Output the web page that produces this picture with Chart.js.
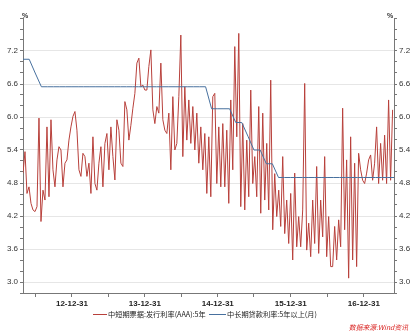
<!DOCTYPE html>
<html><head><meta charset="utf-8">
<script src="https://cdn.jsdelivr.net/npm/chart.js@4.4.1/dist/chart.umd.min.js"></script>
<style>html,body{margin:0;padding:0;background:#fff}#wrap{width:418px;height:335px;position:relative}</style>
</head><body><div id="wrap"><canvas id="c" width="418" height="335"></canvas></div>
<script>
const redLabel = '中短期票据:发行利率(AAA):5年';
const blueLabel = '中长期贷款利率:5年以上(月)';
const sourceText = '数据来源:Wind资讯';
const unitLabel = '%';
const xTickDates = ['2012-06-30','2012-12-31','2013-06-30','2013-12-31','2014-06-30','2014-12-31','2015-06-30','2015-12-31','2016-06-30','2016-12-31'];
const xTickLabels = ['','12-12-31','','13-12-31','','14-12-31','','15-12-31','','16-12-31'];
const yTickValues = [2.8,3.0,3.2,3.4,3.6,3.8,4.0,4.2,4.4,4.6,4.8,5.0,5.2,5.4,5.6,5.8,6.0,6.2,6.4,6.6,6.8,7.0,7.2,7.4,7.6,7.8];
const yTickLabels = ['','3.0','','','3.6','','','4.2','','','4.8','','','5.4','','','6.0','','','6.6','','','7.2','','',''];
const xRange = ['2012-04-30','2017-05-31'];

// red series: sampled every 10 days from redStart
const redStart = '2012-04-30';
const redStepDays = 10;
const redValues = [
4.98,5.37,4.61,4.73,4.43,4.31,4.28,4.37,5.98,4.10,4.67,4.49,5.82,4.55,5.95,5.04,4.73,5.22,5.46,5.40,4.73,5.16,5.22,5.58,5.82,6.01,6.10,5.76,5.04,4.92,5.34,
5.28,4.92,5.16,4.61,5.64,4.79,4.67,5.16,5.46,4.73,5.52,5.70,5.04,5.82,5.28,4.855,5.95,5.76,5.16,5.10,6.28,6.13,5.58,5.85,6.16,6.43,6.98,7.07,6.55,6.58,6.49,
6.49,6.92,7.22,6.13,5.88,6.19,6.07,6.98,5.95,5.76,5.70,6.07,5.04,6.37,5.40,5.52,6.37,7.49,5.28,6.55,5.58,6.31,5.52,6.19,5.40,6.07,5.16,5.82,5.04,5.70,4.61,
5.64,4.55,6.37,6.43,4.79,5.82,4.73,5.88,4.73,5.76,4.43,6.31,5.04,7.28,5.64,7.52,4.37,5.88,4.31,5.58,4.55,6.49,4.79,5.28,4.55,6.19,4.25,6.07,4.49,5.52,4.31,
6.67,3.95,4.97,4.19,4.67,4.01,5.28,3.88,4.49,3.70,4.61,3.40,4.98,3.64,4.19,3.64,4.31,6.61,3.58,4.07,3.46,4.49,3.70,5.10,3.52,4.49,3.82,5.28,3.46,4.19,3.28,
3.28,4.01,3.40,4.13,3.64,6.16,3.95,5.22,3.07,5.64,3.40,5.16,3.28,5.34,5.04,4.85,4.79,4.98,5.22,5.31,4.85,5.16,5.82,4.79,5.52,4.85,5.67,4.79,6.31,4.85,6.13
];

// blue series: monthly (month-end) from blueStartMonth
const blueStartMonth = '2012-04';
const blueValues = [
7.05,7.05,6.80,
6.55,6.55,6.55,6.55,6.55,6.55,
6.55,6.55,6.55,6.55,6.55,6.55,6.55,6.55,6.55,6.55,6.55,6.55,
6.55,6.55,6.55,6.55,6.55,6.55,6.55,6.55,6.55,6.55,
6.15,6.15,6.15,6.15,5.90,5.90,5.65,5.40,5.40,5.15,5.15,
4.90,4.90,4.90,4.90,4.90,4.90,4.90,4.90,4.90,4.90,4.90,4.90,4.90,4.90,4.90,4.90,4.90,4.90,4.90,4.90
];

const DAY = 86400000;
function parseD(s){const p=s.split('-').map(Number);return Date.UTC(p[0],p[1]-1,p[2]);}
const redData = redValues.map((v,i)=>({x:parseD(redStart)+i*redStepDays*DAY,y:v}));
const bm = blueStartMonth.split('-').map(Number);
const blueData = blueValues.map((v,i)=>({x:Date.UTC(bm[0],bm[1]+i,0),y:v}));
const xTickVals = xTickDates.map(parseD);

const RED = '#b8403b', BLUE = '#47709e', AXIS = '#777';
const isMajorY = v => { const i = yTickValues.findIndex(t=>Math.abs(t-v)<1e-6); return i>=0 && yTickLabels[i]!==''; };
const yLabel = v => { const i = yTickValues.findIndex(t=>Math.abs(t-v)<1e-6); return i>=0 ? yTickLabels[i] : ''; };

function yScale(pos, w, grid){
  return {
    type:'linear', position:pos, min:2.8, max:7.8,
    afterBuildTicks: s => { s.ticks = yTickValues.map(v=>({value:v})); },
    afterFit: s => { s.width = w; },
    border:{color:AXIS, width:1},
    grid:{
      drawOnChartArea:grid,
      color: c => (c.tick && isMajorY(c.tick.value)) ? '#e6e6e6' : 'rgba(0,0,0,0)',
      tickColor: AXIS, tickLength:3, lineWidth:1
    },
    ticks:{autoSkip:false, color:'#333', font:{family:'"Liberation Sans", Arial, sans-serif', size:8}, padding:2,
      callback: v => yLabel(v)}
  };
}

const extras = {
  id:'extras',
  afterDraw(chart){
    const ctx = chart.ctx, ca = chart.chartArea;
    ctx.save();
    // unit labels
    ctx.fillStyle = '#333';
    ctx.font = 'bold 7px "Liberation Sans", Arial, sans-serif';
    ctx.textAlign = 'center'; ctx.textBaseline = 'bottom';
    ctx.fillText(unitLabel, ca.left+2, ca.top+2);
    ctx.fillText(unitLabel, ca.right-4, ca.top+2);
    // legend
    const fam = '"Noto Sans CJK SC", sans-serif';
    ctx.font = '8px ' + fam;
    const w1 = ctx.measureText(redLabel).width;
    const fs = Math.min(8, 8*98/w1);
    ctx.font = fs + 'px ' + fam;
    ctx.textAlign = 'left'; ctx.textBaseline = 'middle';
    const ly = 314;
    ctx.lineWidth = 1;
    ctx.strokeStyle = RED; ctx.beginPath(); ctx.moveTo(93, ly+0.5); ctx.lineTo(107, ly+0.5); ctx.stroke();
    ctx.fillStyle = '#222'; ctx.fillText(redLabel, 108, ly);
    ctx.strokeStyle = BLUE; ctx.beginPath(); ctx.moveTo(209, ly+0.5); ctx.lineTo(226, ly+0.5); ctx.stroke();
    ctx.fillStyle = '#222'; ctx.fillText(blueLabel, 227, ly);
    // source
    ctx.font = 'italic ' + (fs*0.95) + 'px ' + fam;
    ctx.fillStyle = '#d8201e';
    ctx.textAlign = 'right';
    ctx.fillText(sourceText, 408, 327);
    ctx.restore();
  }
};

new Chart(document.getElementById('c'), {
  type:'line',
  data:{datasets:[
    {label:redLabel, data:redData, borderColor:RED, borderWidth:1, pointRadius:0, tension:0, order:2, yAxisID:'y'},
    {label:blueLabel, data:blueData, borderColor:BLUE, borderWidth:1, pointRadius:0, tension:0, order:1, yAxisID:'y'}
  ]},
  options:{
    responsive:false, animation:false, events:[],
    layout:{padding:{top:18, bottom:22, left:0, right:0}},
    plugins:{legend:{display:false}, tooltip:{enabled:false}},
    scales:{
      x:{
        type:'linear', min:parseD(xRange[0]), max:parseD(xRange[1]),
        afterBuildTicks: s => { s.ticks = xTickVals.map(v=>({value:v})); },
        afterFit: s => { s.height = 20; },
        border:{color:AXIS, width:1},
        grid:{drawOnChartArea:false, tickColor:AXIS, tickLength:4},
        ticks:{autoSkip:false, maxRotation:0, color:'#222', font:{family:'"Liberation Sans", Arial, sans-serif', size:8, weight:'bold'}, padding:2,
          callback: v => { const i = xTickVals.indexOf(v); return i>=0 ? xTickLabels[i] : ''; }}
      },
      y: yScale('left', 23, true),
      y2: yScale('right', 24, false)
    }
  },
  plugins:[extras]
});
</script>
</body></html>
